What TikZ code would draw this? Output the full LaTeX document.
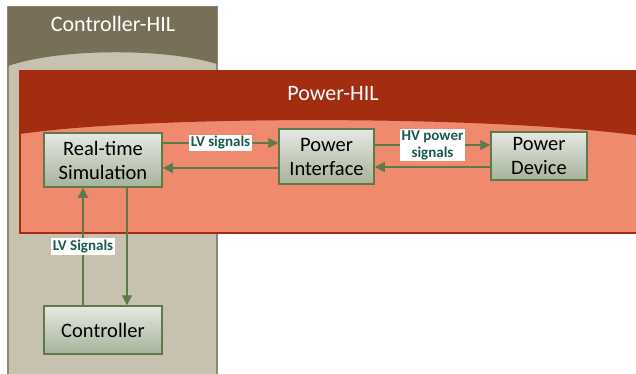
\documentclass[tikz,border=0pt]{standalone}
\usepackage{fontspec}
\setmainfont{Carlito}
\usetikzlibrary{arrows.meta}

\definecolor{ctrldark}{HTML}{776F57}
\definecolor{ctrllight}{HTML}{C7C1B0}
\definecolor{ctrlline}{HTML}{8D8873}
\definecolor{powdark}{HTML}{A32D10}
\definecolor{powlight}{HTML}{F08A6E}
\definecolor{blocktop}{HTML}{E6E8E3}
\definecolor{blockbot}{HTML}{A6B399}
\definecolor{blockline}{HTML}{5E7A4A}
\definecolor{sigtext}{HTML}{1B5A4E}

\begin{document}
\begin{tikzpicture}[x=1pt,y=-1pt,
  panel/.style={font=\fontsize{22}{24}\selectfont,text=white},
  block/.style={draw=blockline,line width=1.5pt,top color=blocktop,bottom color=blockbot,
    minimum width=118pt,minimum height=54pt,inner sep=2pt,align=center,
    font=\fontsize{20.5}{24}\selectfont},
  link/.style={draw=blockline,line width=1.3pt,-{Triangle[length=10pt,width=10pt]}},
  sig/.style={fill=white,text=sigtext,inner sep=1.5pt,align=center,
    font=\bfseries\fontsize{15}{17}\selectfont}]

  \useasboundingbox (0,0) rectangle (636,374);

  % Panels

  \filldraw[fill=ctrllight,draw=ctrlline,line width=1.5pt] (8,7) rectangle (217,390);
  \fill[ctrldark] (8,7) -- (217,7) -- (217,64)
    .. controls (165,48) and (60,48) .. (8,66) -- cycle;
  \node[panel] (ctrlhil) at (113,24) {Controller-HIL};

  \filldraw[fill=powlight,draw=powdark,line width=1.5pt] (20,71) rectangle (650,233);
  \fill[powdark] (20,71) -- (650,71) -- (650,137)
    .. controls (500,115) and (150,115) .. (20,134) -- cycle;
  \node[panel] (powhil) at (333,94) {Power-HIL};

  % Nodes

  \node[block] (rts) at (103,160) {Real-time\\Simulation};
  \node[block,minimum width=95pt,minimum height=55pt] (pi) at (326.5,156.5) {Power\\Interface};
  \node[block,minimum width=96pt,minimum height=48pt] (pd) at (539,156) {Power\\Device};
  \node[block,minimum height=48pt] (ctrl) at (103,330) {Controller};

  % Edges

  \draw[link] ([yshift=17pt]rts.east) -- ([yshift=17pt]rts.east -| pi.west)
    node[sig,midway] (lvsig) {LV signals};
  \draw[link] ([yshift=-11.5pt]pi.west) -- ([yshift=-11.5pt]pi.west -| rts.east);
  \draw[link] ([yshift=11.5pt]pi.east) -- ([yshift=11.5pt]pi.east -| pd.west)
    node[sig,midway] (hvsig) {HV power\\signals};
  \draw[link] ([yshift=-11pt]pd.west) -- ([yshift=-11pt]pd.west -| pi.east);
  \draw[link] ([xshift=-20pt]ctrl.north) -- ([xshift=-20pt]ctrl.north |- rts.south)
    node[sig,midway] (lvsig2) {LV Signals};
  \draw[link] ([xshift=24pt]rts.south) -- ([xshift=24pt]rts.south |- ctrl.north);

\end{tikzpicture}
\end{document}
